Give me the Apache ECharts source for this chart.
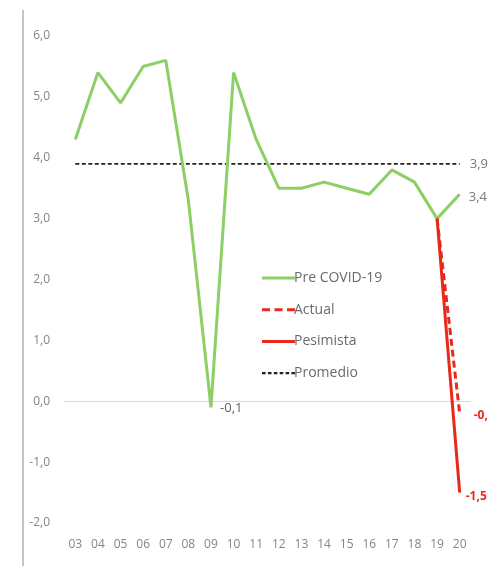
<!DOCTYPE html>
<html>
<head>
<meta charset="utf-8">
<script src="https://cdn.jsdelivr.net/npm/echarts@6/dist/echarts.min.js"></script>
<style>
  html, body { margin: 0; padding: 0; background: #ffffff; }
  #chart { width: 488px; height: 566px; }
</style>
</head>
<body>
<div id="chart"></div>
<script>
// Years (two-digit) on the category axis
const years = ['03','04','05','06','07','08','09','10','11','12','13','14','15','16','17','18','19','20'];

// Growth series (%)
const preCovid  = [4.3, 5.4, 4.9, 5.5, 5.6, 3.3, -0.1, 5.4, 4.3, 3.5, 3.5, 3.6, 3.5, 3.4, 3.8, 3.6, 3.0, 3.4];
const actual    = [null, null, null, null, null, null, null, null, null, null, null, null, null, null, null, null, 3.0, -0.2];
const pesimista = [null, null, null, null, null, null, null, null, null, null, null, null, null, null, null, null, 3.0, -1.5];
const promedio  = [3.9, 3.9, 3.9, 3.9, 3.9, 3.9, 3.9, 3.9, 3.9, 3.9, 3.9, 3.9, 3.9, 3.9, 3.9, 3.9, 3.9, 3.9];

// Value axis range
const yMin = -2, yMax = 6, yStep = 1;

const GREEN = '#8ccf64';
const RED = '#e8291c';
const BLACK = '#222222';

const fmt = v => v.toFixed(1).replace('.', ',');

// Attach a value label to selected points of a series
function withLabels(values, labelled) {
  return values.map((v, i) => {
    if (v === null) return null;
    const cfg = labelled[i];
    if (!cfg) return { value: v };
    return { value: v, label: Object.assign({ show: true, formatter: p => fmt(p.value) }, cfg) };
  });
}

const lastIdx = years.length - 1;

const chart = echarts.init(document.getElementById('chart'), null, { renderer: 'canvas' });

chart.setOption({
  backgroundColor: '#ffffff',
  animation: false,
  textStyle: { fontFamily: 'Open Sans, sans-serif' },
  grid: { left: 64, right: 17, top: 36, bottom: 43 },
  graphic: [{
    type: 'line',
    shape: { x1: 23, y1: 10, x2: 23, y2: 566 },
    style: { stroke: '#c4c4c4', lineWidth: 2 },
    silent: true
  }],
  legend: {
    orient: 'vertical',
    left: 257,
    top: 265,
    itemWidth: 33,
    itemHeight: 3,
    itemGap: 15.7,
    textStyle: { color: '#6a6a6a', fontSize: 14, lineHeight: 16, fontFamily: 'Open Sans, sans-serif', padding: [0, 0, 0, -6] },
    data: [
      { name: 'Pre COVID-19', icon: 'path://M0,0H33V3H0Z', itemStyle: { color: GREEN } },
      { name: 'Actual', icon: 'path://M0,0H8V3H0Z M12.5,0H20.5V3H12.5Z M25,0H33V3H25Z', itemStyle: { color: RED } },
      { name: 'Pesimista', icon: 'path://M0,0H33V3H0Z', itemStyle: { color: RED } },
      { name: 'Promedio', icon: 'path://M0,0.4H3.6V2.6H0Z M5.9,0.4H9.5V2.6H5.9Z M11.8,0.4H15.4V2.6H11.8Z M17.7,0.4H21.3V2.6H17.7Z M23.6,0.4H27.2V2.6H23.6Z M29.4,0.4H33V2.6H29.4Z M0,0H0.01V3H0Z', itemStyle: { color: BLACK } }
    ]
  },
  xAxis: {
    type: 'category',
    data: years,
    boundaryGap: true,
    axisLine: { show: false },
    axisTick: { show: false },
    axisLabel: { color: '#858585', fontSize: 12, margin: 16 }
  },
  yAxis: {
    type: 'value',
    min: yMin,
    max: yMax,
    interval: yStep,
    axisLine: { show: false },
    axisTick: { show: false },
    splitLine: { show: false },
    axisLabel: { color: '#858585', fontSize: 12, margin: 14, formatter: v => fmt(v) }
  },
  series: [
    {
      name: 'Promedio',
      type: 'line',
      data: withLabels(promedio, { [lastIdx]: { position: 'right', distance: 10, color: '#7a7a7a', fontSize: 13 } }),
      symbol: 'circle',
      symbolSize: 0.1,
      itemStyle: { color: BLACK },
      lineStyle: { color: BLACK, width: 1.8, type: [4, 2.5] },
      z: 2,
      markLine: {
        silent: true,
        symbol: 'none',
        label: { show: false },
        lineStyle: { color: '#d9d9d9', width: 1, type: 'solid' },
        data: [{ yAxis: 0 }],
        z: 1
      }
    },
    {
      name: 'Pre COVID-19',
      type: 'line',
      data: withLabels(preCovid, {
        6: { position: 'right', distance: 9, offset: [0, 1], color: '#5f5f5f', fontSize: 13 },
        [lastIdx]: { position: 'right', distance: 9, offset: [0, 3], color: '#7a7a7a', fontSize: 13 }
      }),
      symbol: 'circle',
      symbolSize: 0.1,
      itemStyle: { color: GREEN },
      lineStyle: { color: GREEN, width: 3 },
      z: 3
    },
    {
      name: 'Pesimista',
      type: 'line',
      data: withLabels(pesimista, { [lastIdx]: { position: 'right', distance: 6, offset: [0, 4], color: RED, fontSize: 12, fontWeight: 'bold' } }),
      symbol: 'circle',
      symbolSize: 0.1,
      itemStyle: { color: RED },
      lineStyle: { color: RED, width: 3 },
      z: 4
    },
    {
      name: 'Actual',
      type: 'line',
      data: withLabels(actual, { [lastIdx]: { position: 'right', distance: 14, offset: [0, 2], color: RED, fontSize: 12, fontWeight: 'bold' } }),
      symbol: 'circle',
      symbolSize: 0.1,
      itemStyle: { color: RED },
      lineStyle: { color: RED, width: 3, type: [7, 4] },
      z: 5
    }
  ]
});
</script>
</body>
</html>
